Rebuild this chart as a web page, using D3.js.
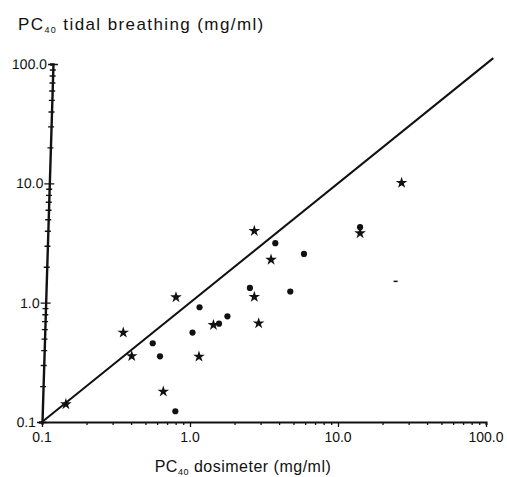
<!DOCTYPE html>
<html>
<head>
<meta charset="utf-8">
<script src="https://cdn.jsdelivr.net/npm/d3@7"></script>
<style>
  html, body { margin: 0; padding: 0; background: #fff; }
  svg text { font-family: "Liberation Sans", Arial, Helvetica, sans-serif; fill: #111; }
</style>
</head>
<body>
<svg id="chart" width="507" height="477"></svg>
<script>
// ---- data ----
const majorTicks = [0.1, 1, 10, 100];
const xTickLabels = ["0.1", "1.0", "10.0", "100.0"];
const yTickLabels = ["0.1", "1.0", "10.0", "100.0"];

// stars
const starX = [0.145, 0.354, 0.404, 0.804, 0.660, 1.15, 1.44, 2.72, 2.91, 3.53, 2.72, 14.1, 26.9];
const starY = [0.141, 0.561, 0.357, 1.11, 0.180, 0.353, 0.650, 1.12, 0.672, 2.29, 3.99, 3.82, 10.1];
// dots
const dotX = [0.560, 0.627, 0.796, 1.04, 1.16, 1.57, 1.79, 2.54, 4.76, 5.89, 3.77, 14.1];
const dotY = [0.457, 0.355, 0.123, 0.561, 0.915, 0.667, 0.769, 1.33, 1.24, 2.56, 3.15, 4.29];
// stray dash in the scan
const strayX = [24.5];
const strayY = [1.51];
// line of identity extent
const identity = [0.1, 112];

const yTitle = ["PC", "40", " tidal breathing (mg/ml)"];
const xTitle = ["PC", "40", " dosimeter (mg/ml)"];

// ---- layout ----
const svg = d3.select("#chart");
const x = d3.scaleLog().domain([0.1, 100]).range([42, 486]);
const y = d3.scaleLog().domain([0.1, 100]).range([422, 64]);

const minor = [];
for (const d of [0.1, 1, 10]) for (let k = 1; k <= 9; k++) minor.push(+(d * k).toPrecision(3));
minor.push(100);

// x axis
const xAxis = svg.append("g").attr("transform", `translate(0,${y(0.1)})`)
  .call(d3.axisBottom(x).tickValues(minor).tickSize(3).tickFormat(() => ""));
xAxis.select(".domain").attr("stroke", "#111").attr("stroke-width", 2);
xAxis.selectAll(".tick line").attr("stroke", "#111").attr("stroke-width", 1.3)
  .attr("y2", d => majorTicks.includes(d) ? 5 : 3);
svg.append("g").selectAll("text").data(majorTicks).join("text")
  .attr("x", d => x(d)).attr("y", y(0.1) + 20)
  .attr("text-anchor", "middle").attr("font-size", 14)
  .text((d, i) => xTickLabels[i]);

// y axis (slightly slanted as in the scan)
const tilt = -1.76;
const yAxisG = svg.append("g")
  .attr("transform", `translate(${x(0.1)},${y(0.1)}) skewX(${tilt}) translate(0,${-y(0.1)})`);
const yAxis = yAxisG.append("g")
  .call(d3.axisLeft(y).tickValues(minor).tickSize(3).tickFormat(() => ""));
yAxis.select(".domain").attr("stroke", "#111").attr("stroke-width", 2.4);
yAxis.selectAll(".tick line").attr("stroke", "#111").attr("stroke-width", 1.4)
  .attr("x1", d => majorTicks.includes(d) ? 5 : 3)
  .attr("x2", d => majorTicks.includes(d) ? -5 : -3);
yAxisG.append("g").selectAll("text").data(majorTicks).join("text")
  .attr("x", -6).attr("y", d => y(d)).attr("dy", "0.36em")
  .attr("text-anchor", "end").attr("font-size", 14)
  .text((d, i) => yTickLabels[i]);

// identity line
svg.append("path")
  .attr("d", d3.line().x(d => x(d)).y(d => y(d))(identity))
  .attr("stroke", "#111").attr("stroke-width", 2).attr("fill", "none");

// points
svg.append("g").selectAll("path").data(starX.map((v, i) => [v, starY[i]])).join("path")
  .attr("transform", d => `translate(${x(d[0])},${y(d[1])})`)
  .attr("d", d3.symbol().type(d3.symbolStar).size(42))
  .attr("fill", "#111");
svg.append("g").selectAll("circle").data(dotX.map((v, i) => [v, dotY[i]])).join("circle")
  .attr("cx", d => x(d[0])).attr("cy", d => y(d[1])).attr("r", 3.1)
  .attr("fill", "#111");
svg.append("g").selectAll("rect").data(strayX.map((v, i) => [v, strayY[i]])).join("rect")
  .attr("x", d => x(d[0]) - 2).attr("y", d => y(d[1]) - 0.7)
  .attr("width", 4).attr("height", 1.5).attr("fill", "#111");

// titles
const yt = svg.append("text").attr("x", 18).attr("y", 30)
  .attr("font-size", 17).attr("letter-spacing", 1.4);
yt.append("tspan").text(yTitle[0]);
yt.append("tspan").attr("font-size", 9).attr("dy", 3).text(yTitle[1]);
yt.append("tspan").attr("dy", -3).text(yTitle[2]);

const xt = svg.append("text").attr("x", 243).attr("y", 472)
  .attr("text-anchor", "middle").attr("font-size", 16).attr("letter-spacing", 0.5);
xt.append("tspan").text(xTitle[0]);
xt.append("tspan").attr("font-size", 9).attr("dy", 3).text(xTitle[1]);
xt.append("tspan").attr("dy", -3).text(xTitle[2]);
</script>
</body>
</html>
